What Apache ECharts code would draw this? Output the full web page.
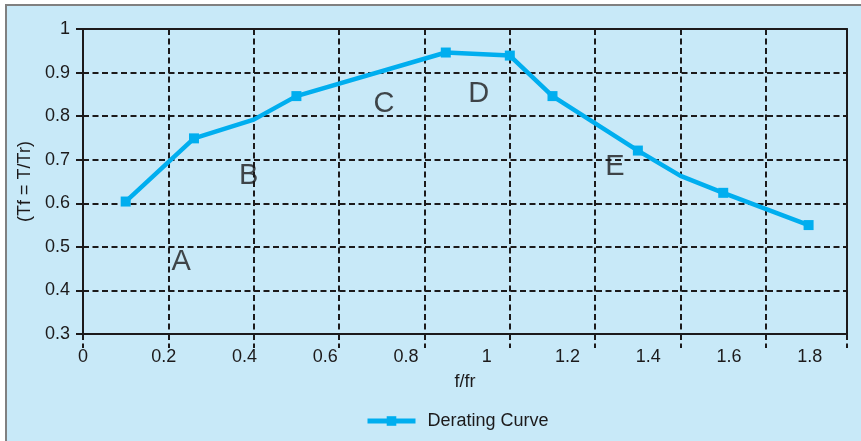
<!DOCTYPE html>
<html>
<head>
<meta charset="utf-8">
<script src="https://cdn.jsdelivr.net/npm/echarts@6/dist/echarts.min.js"></script>
<style>
  html, body { margin: 0; padding: 0; background: #fff; }
  #chart { width: 861px; height: 441px; }
</style>
</head>
<body>
<div id="chart"></div>
<script>
// f/fr values of the curve and the derating factor Tf at each one
const ratio = [0.1, 0.26, 0.4, 0.5, 0.85, 1.0, 1.1, 1.3, 1.4, 1.5, 1.7]
const factor = [0.604, 0.749, 0.792, 0.846, 0.946, 0.939, 0.846, 0.721, 0.663, 0.624, 0.55]
// the bends at 0.4 and 1.4 carry no marker
const marked = [true, true, false, true, true, true, true, true, false, true, true]

// region letters and where they sit in data units
const zoneNames = ['A', 'B', 'C', 'D', 'E']
const zoneX = [0.23, 0.388, 0.705, 0.927, 1.246]
const zoneY = [0.465, 0.663, 0.828, 0.851, 0.684]

const xTickLabels = ['0', '0.2', '0.4', '0.6', '0.8', '1', '1.2', '1.4', '1.6', '1.8']

const ink = '#1c1a1b'
const blue = '#00aeef'
const font = "'Liberation Sans', Arial, sans-serif"
const dashed = { color: ink, width: 2, type: [6, 3.5] }

const chart = echarts.init(document.getElementById('chart'))

const option = {
  backgroundColor: '#c8e9f8',
  animation: false,
  textStyle: { fontFamily: font, color: ink },
  graphic: [
    // white margin and grey frame on top / left
    { type: 'rect', shape: { x: 0, y: 0, width: 861, height: 4 }, style: { fill: '#fff' } },
    { type: 'rect', shape: { x: 0, y: 0, width: 5, height: 441 }, style: { fill: '#fff' } },
    { type: 'line', shape: { x1: 5, y1: 5, x2: 861, y2: 5 }, style: { stroke: '#808080', lineWidth: 2 } },
    { type: 'line', shape: { x1: 6, y1: 5, x2: 6, y2: 441 }, style: { stroke: '#808080', lineWidth: 2 } }
  ],
  grid: { left: 83, right: 14, top: 29, bottom: 107 },
  legend: {
    data: ['Derating Curve'],
    left: 365,
    top: 412,
    padding: 0,
    itemWidth: 48,
    itemHeight: 12,
    lineStyle: { width: 5 },
    textStyle: { fontSize: 18, color: ink, fontFamily: font, padding: [0, 0, 0, 7] }
  },
  xAxis: [
    {
      // real scale: grid lines and data
      type: 'value',
      min: 0,
      max: 1.79,
      interval: 0.2,
      position: 'bottom',
      axisLine: { onZero: false, lineStyle: { color: ink, width: 2 } },
      axisTick: { show: true, length: 14, lineStyle: dashed },
      axisLabel: { show: false },
      splitLine: { show: true, lineStyle: dashed }
    },
    {
      // printed labels (they drift from the grid lines in the original)
      type: 'value',
      min: 0,
      max: 1.8925,
      interval: 0.2,
      position: 'bottom',
      axisLine: { show: false },
      axisTick: { show: false },
      splitLine: { show: false },
      axisLabel: {
        fontSize: 18,
        color: ink,
        margin: 14,
        formatter: v => {
          const i = Math.round(v / 0.2)
          return Math.abs(v - i * 0.2) < 1e-6 ? (xTickLabels[i] || '') : ''
        }
      },
      name: 'f/fr',
      nameLocation: 'middle',
      nameGap: 39,
      nameTextStyle: { fontSize: 18, color: ink }
    },
    {
      // top frame
      type: 'value',
      min: 0,
      max: 1.79,
      position: 'top',
      axisLine: { onZero: false, lineStyle: { color: ink, width: 2 } },
      axisTick: { show: false },
      axisLabel: { show: false },
      splitLine: { show: false }
    }
  ],
  yAxis: [
    {
      type: 'value',
      min: 0.3,
      max: 1,
      interval: 0.1,
      position: 'left',
      axisLine: { show: true, onZero: false, lineStyle: { color: ink, width: 2 } },
      axisTick: { show: true, length: 7, lineStyle: { color: ink, width: 2 } },
      axisLabel: { fontSize: 18, color: ink, margin: 13 },
      splitLine: { show: true, lineStyle: dashed },
      name: '(Tf = T/Tr)',
      nameLocation: 'middle',
      nameGap: 47,
      nameRotate: 90,
      nameTextStyle: { fontSize: 18, color: ink }
    },
    {
      // right frame
      type: 'value',
      min: 0.3,
      max: 1,
      position: 'right',
      axisLine: { show: true, onZero: false, lineStyle: { color: ink, width: 2 } },
      axisTick: { show: false },
      axisLabel: { show: false },
      splitLine: { show: false }
    }
  ],
  series: [
    {
      name: 'Derating Curve',
      type: 'line',
      xAxisIndex: 0,
      yAxisIndex: 0,
      symbol: 'rect',
      symbolSize: 10,
      color: blue,
      lineStyle: { color: blue, width: 4.5 },
      itemStyle: { color: blue },
      z: 5,
      data: ratio.map((x, i) => ({
        value: [x, factor[i]],
        symbol: marked[i] ? 'rect' : 'none'
      }))
    },
    {
      name: 'zones',
      type: 'scatter',
      xAxisIndex: 0,
      yAxisIndex: 0,
      symbolSize: 0,
      silent: true,
      label: {
        show: true,
        position: 'inside',
        formatter: p => p.name,
        fontSize: 29,
        color: ink,
        fontFamily: "'Liberation Sans Narrow', 'Arial Narrow', 'Liberation Sans', sans-serif"
      },
      data: zoneNames.map((n, i) => ({ name: n, value: [zoneX[i], zoneY[i]] }))
    }
  ]
}

chart.setOption(option)
</script>
</body>
</html>
